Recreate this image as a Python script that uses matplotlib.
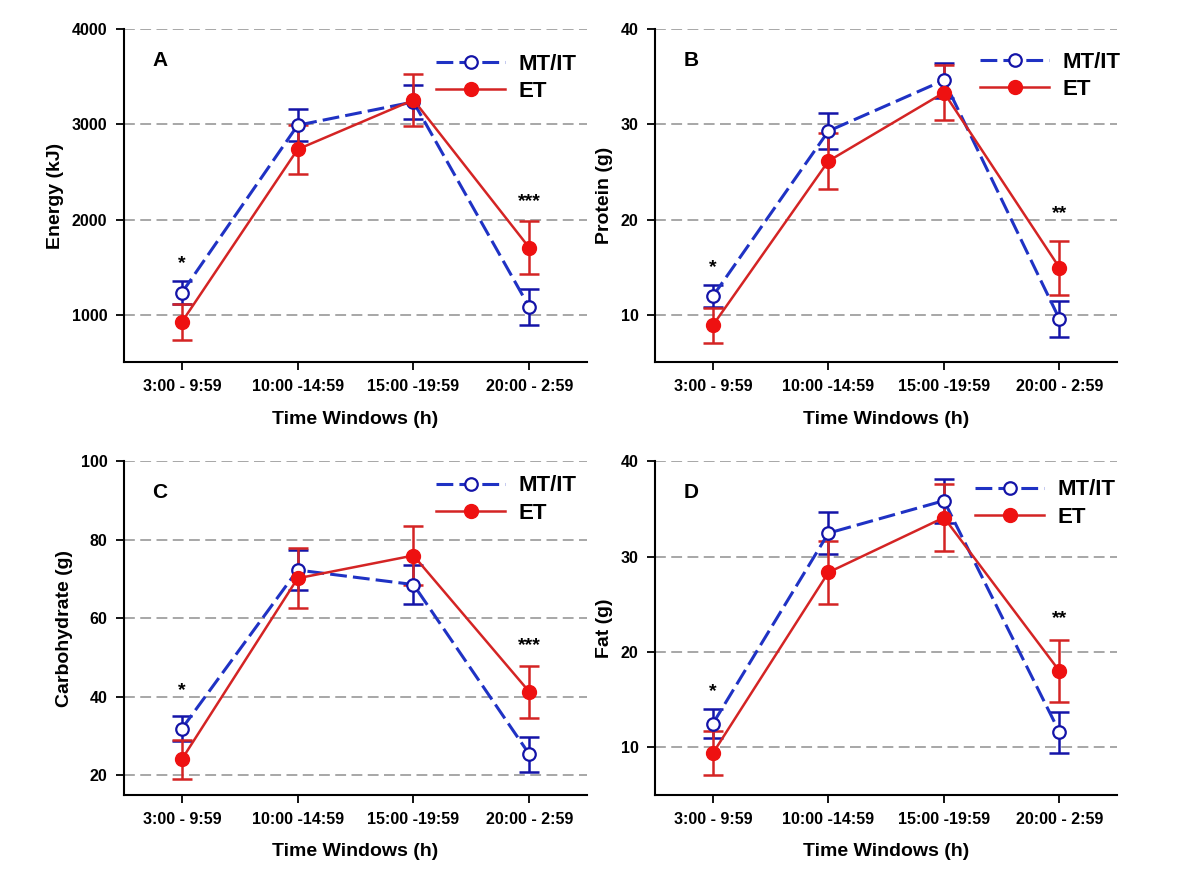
import numpy as np
import matplotlib.pyplot as plt

plt.rcParams["font.family"] = ["Liberation Sans", "DejaVu Sans"]
plt.rcParams["font.weight"] = "bold"

# time windows
windows = ["3:00 - 9:59", "10:00 -14:59", "15:00 -19:59", "20:00 - 2:59"]

# A: energy (kJ)
energy_mt = [1231, 2991, 3236, 1080]
energy_mt_se = [120, 170, 180, 185]
energy_et = [923, 2738, 3257, 1704]
energy_et_se = [185, 255, 273, 280]
energy_stars = ["*", "", "", "***"]
energy_star_y = [1540, 0, 0, 2190]

# B: protein (g)
protein_mt = [11.96, 29.3, 34.64, 9.54]
protein_mt_se = [1.2, 1.9, 1.85, 1.9]
protein_et = [8.9, 26.15, 33.34, 14.94]
protein_et_se = [1.85, 2.9, 2.9, 2.85]
protein_stars = ["*", "", "", "**"]
protein_star_y = [15.0, 0, 0, 20.6]

# C: carbohydrate (g)
carb_mt = [31.9, 72.3, 68.6, 25.4]
carb_mt_se = [3.2, 5.0, 5.0, 4.45]
carb_et = [24.1, 70.2, 76.0, 41.3]
carb_et_se = [5.0, 7.6, 7.5, 6.65]
carb_stars = ["*", "", "", "***"]
carb_star_y = [41.6, 0, 0, 53.0]

# D: fat (g)
fat_mt = [12.5, 32.47, 35.87, 11.6]
fat_mt_se = [1.55, 2.2, 2.3, 2.15]
fat_et = [9.4, 28.35, 34.1, 18.0]
fat_et_se = [2.35, 3.3, 3.5, 3.25]
fat_stars = ["*", "", "", "**"]
fat_star_y = [15.8, 0, 0, 23.5]

BLUE = "#1f32c4"
BLUE_DARK = "#1414a8"
RED = "#d42424"
RED_MK = "#ee1111"

panels = [
    ("A", "Energy (kJ)", energy_mt, energy_mt_se, energy_et, energy_et_se,
     energy_stars, energy_star_y, (500, 4000), [1000, 2000, 3000, 4000],
     [0.1033, 0.5888, 0.386, 0.378], (1.02, 0.987)),
    ("B", "Protein (g)", protein_mt, protein_mt_se, protein_et, protein_et_se,
     protein_stars, protein_star_y, (5, 40), [10, 20, 30, 40],
     [0.546, 0.5888, 0.385, 0.378], (1.05, 0.993)),
    ("C", "Carbohydrate (g)", carb_mt, carb_mt_se, carb_et, carb_et_se,
     carb_stars, carb_star_y, (15, 100), [20, 40, 60, 80, 100],
     [0.1033, 0.0976, 0.386, 0.3788], (1.02, 1.018)),
    ("D", "Fat (g)", fat_mt, fat_mt_se, fat_et, fat_et_se,
     fat_stars, fat_star_y, (5, 40), [10, 20, 30, 40],
     [0.546, 0.0976, 0.385, 0.3788], (1.04, 1.006)),
]

fig = plt.figure(figsize=(12, 8.81), dpi=100)
x = np.arange(1, len(windows) + 1)

for (letter, ylabel, mt, mt_se, et, et_se, stars, star_y,
     ylim, yticks, pos, leg_anchor) in panels:
    ax = fig.add_axes(pos)

    # error bars
    ax.errorbar(x, mt, yerr=mt_se, fmt="none", ecolor=BLUE_DARK,
                elinewidth=1.8, capsize=7, capthick=1.8, zorder=2)
    ax.errorbar(x, et, yerr=et_se, fmt="none", ecolor=RED,
                elinewidth=1.8, capsize=7, capthick=1.8, zorder=3)

    # lines + markers
    ax.plot(x, mt, color=BLUE, lw=2.2, linestyle=(0, (5.5, 2.0)),
            marker="o", ms=9, mfc="white", mec=BLUE_DARK, mew=1.6,
            label="MT/IT", zorder=4)
    ax.plot(x, et, color=RED, lw=1.8, marker="o", ms=10,
            mfc=RED_MK, mec=RED_MK, label="ET", zorder=5)

    for xi, s, sy in zip(x, stars, star_y):
        if s:
            ax.text(xi, sy, s, ha="center", va="center", fontsize=14,
                    fontweight="bold")

    ax.set_xlim(0.5, 4.5)
    ax.set_ylim(*ylim)
    ax.set_xticks(x)
    ax.set_xticklabels(windows)
    ax.set_yticks(yticks)
    ax.yaxis.grid(True, color="#a0a0a0", linestyle=(0, (6, 3)), lw=1.3)
    ax.set_axisbelow(True)

    for side in ["top", "right"]:
        ax.spines[side].set_visible(False)
    ax.spines["left"].set_linewidth(1.5)
    ax.spines["bottom"].set_linewidth(1.5)
    ax.tick_params(axis="both", direction="out", length=6, width=1.3,
                   labelsize=11.5, pad=6)

    ax.set_xlabel("Time Windows (h)", fontsize=14, fontweight="bold",
                  labelpad=12)
    ax.set_ylabel(ylabel, fontsize=14, fontweight="bold", labelpad=5.5)

    ax.text(0.078, 0.905, letter, transform=ax.transAxes, fontsize=15,
            fontweight="bold", ha="center", va="center")

    ax.legend(loc="upper right", bbox_to_anchor=leg_anchor,
              frameon=False, fontsize=16, handlelength=3.1,
              numpoints=1, labelspacing=0.3, handletextpad=0.6)

fig.savefig("out.png", dpi=100)
